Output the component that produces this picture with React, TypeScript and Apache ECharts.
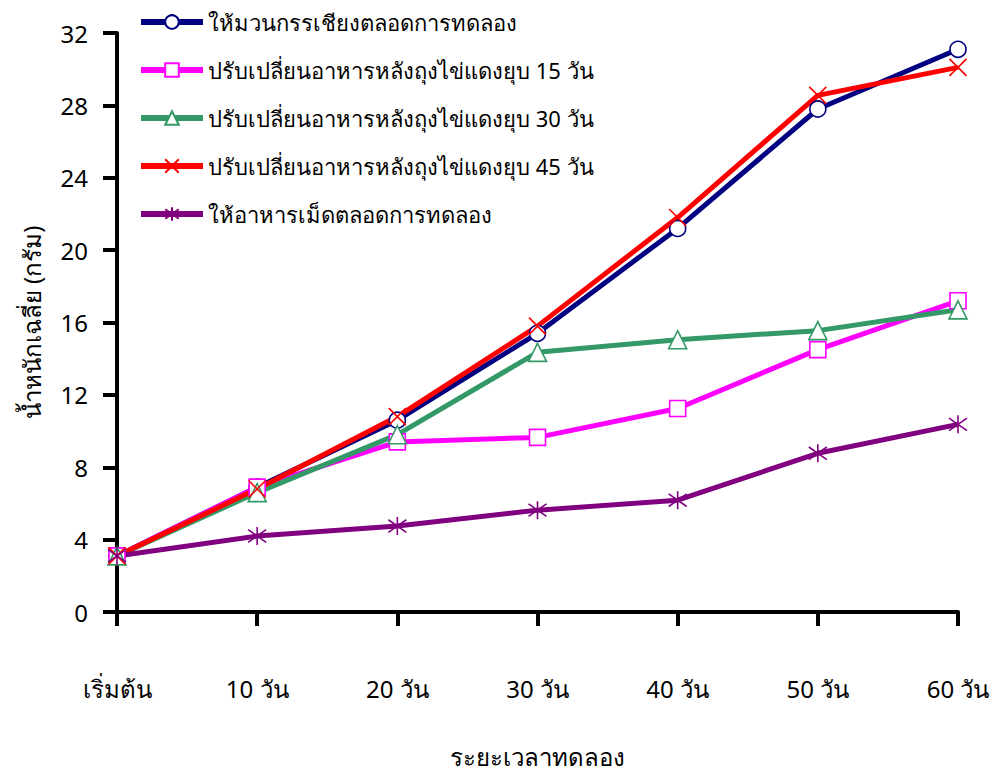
import React, { useEffect, useRef } from "react";
import * as echarts from "echarts";

const categories = ["เริ่มต้น", "10 วัน", "20 วัน", "30 วัน", "40 วัน", "50 วัน", "60 วัน"];
const seriesNames = [
  "ให้มวนกรรเชียงตลอดการทดลอง",
  "ปรับเปลี่ยนอาหารหลังถุงไข่แดงยุบ 15 วัน",
  "ปรับเปลี่ยนอาหารหลังถุงไข่แดงยุบ 30 วัน",
  "ปรับเปลี่ยนอาหารหลังถุงไข่แดงยุบ 45 วัน",
  "ให้อาหารเม็ดตลอดการทดลอง",
];
const waterBug = [3.1, 6.9, 10.6, 15.4, 21.2, 27.8, 31.1];
const switch15 = [3.1, 6.9, 9.4, 9.65, 11.25, 14.5, 17.2];
const switch30 = [3.1, 6.6, 9.8, 14.35, 15.05, 15.55, 16.7];
const switch45 = [3.1, 6.8, 10.8, 15.8, 21.8, 28.55, 30.1];
const pellet = [3.1, 4.2, 4.75, 5.63, 6.18, 8.77, 10.37];
const yTicks = { min: 0, max: 32, interval: 4 };

const FONT = "'Noto Sans', 'DejaVu Sans', sans-serif";

const crossSymbol = "path://M0,0L10,10M10,0L0,10";
const starSymbol = "path://M5,0L5,10M0,1.5L10,8.5M10,1.5L0,8.5";

export default function App() {
  const ref = useRef<HTMLDivElement>(null);
  useEffect(() => {
    if (!ref.current) return;
    const chart = echarts.init(ref.current, null, { renderer: "svg" });
    const mk = (
      name: string,
      data: number[],
      color: string,
      symbol: string,
      size: number,
      hollow: boolean
    ) => ({
      name,
      type: "line",
      data,
      symbol,
      symbolSize: size,
      showSymbol: true,
      lineStyle: { color, width: 5 },
      itemStyle: hollow
        ? { color: "#ffffff", borderColor: color, borderWidth: 1.6 }
        : { color: "none", borderColor: color, borderWidth: 1.6 },
      emphasis: { disabled: true },
    });
    chart.setOption({
      animation: false,
      backgroundColor: "#ffffff",
      textStyle: { fontFamily: FONT },
      legend: {
        orient: "vertical",
        left: 133,
        top: 5,
        itemWidth: 62,
        itemHeight: 17,
        itemGap: 24,
        lineStyle: { width: 6 },
        textStyle: { fontSize: 22, lineHeight: 24, color: "#000000", fontFamily: FONT },
        data: seriesNames,
      },
      grid: { left: 117, right: 39, top: 33, bottom: 160, containLabel: false },
      xAxis: {
        type: "category",
        data: categories,
        boundaryGap: false,
        name: "ระยะเวลาทดลอง",
        nameLocation: "middle",
        nameGap: 132,
        nameTextStyle: { fontSize: 24, color: "#000000" },
        axisLine: { lineStyle: { color: "#000000", width: 4 } },
        axisTick: { show: true, length: 14, lineStyle: { color: "#000000", width: 4 } },
        axisLabel: { fontSize: 24, color: "#000000", margin: 64 },
        splitLine: { show: false },
      },
      yAxis: {
        type: "value",
        min: yTicks.min,
        max: yTicks.max,
        interval: yTicks.interval,
        name: "น้ำหนักเฉลี่ย (กรัม)",
        nameLocation: "middle",
        nameRotate: 90,
        nameGap: 74,
        nameTextStyle: { fontSize: 24, color: "#000000" },
        axisLine: { show: true, lineStyle: { color: "#000000", width: 4 } },
        axisTick: { show: true, length: 14, lineStyle: { color: "#000000", width: 4 } },
        axisLabel: { fontSize: 24, color: "#000000", margin: 29 },
        splitLine: { show: false },
      },
      series: [
        mk(seriesNames[0], waterBug, "#000080", "circle", 16, true),
        mk(seriesNames[1], switch15, "#ff00ff", "rect", 16, true),
        mk(seriesNames[2], switch30, "#339966", "triangle", 18, true),
        mk(seriesNames[3], switch45, "#ff0000", crossSymbol, 17, false),
        mk(seriesNames[4], pellet, "#800080", starSymbol, 18, false),
      ],
    });
    return () => chart.dispose();
  }, []);
  return (
    <div
      ref={ref}
      style={{ position: "absolute", left: 0, top: 0, width: 997, height: 773 }}
    />
  );
}
